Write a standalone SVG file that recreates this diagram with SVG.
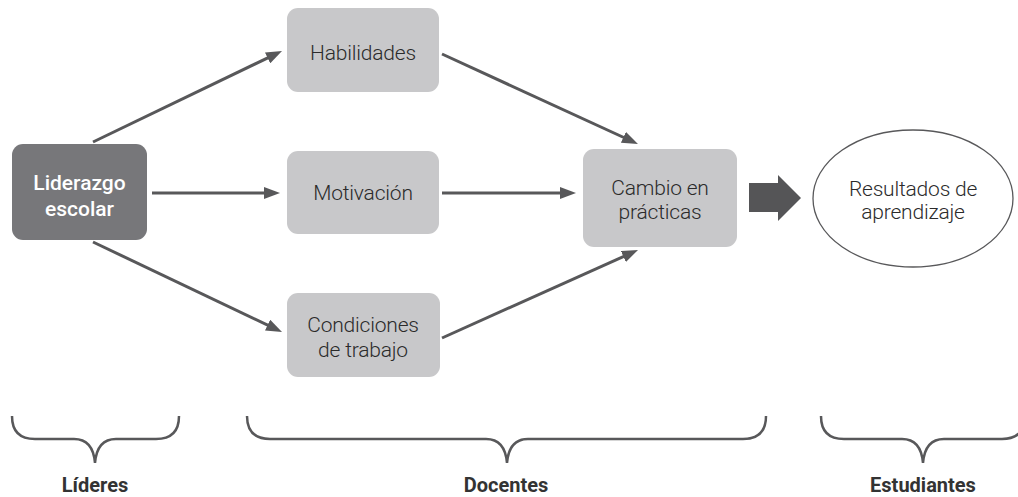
<svg xmlns="http://www.w3.org/2000/svg" width="1018" height="497" viewBox="0 0 1018 497">
<style>
.box{fill:#c8c8ca}
.dark{fill:#77777a}
.t{font-family:Roboto,"Liberation Sans",sans-serif;font-size:21px;font-weight:300;fill:#2b2b2b;text-anchor:middle;letter-spacing:-0.2px}
.tw{font-family:Roboto,"Liberation Sans",sans-serif;font-size:21px;font-weight:500;fill:#ffffff;text-anchor:middle}
.lab{font-family:Roboto,"Liberation Sans",sans-serif;font-size:20px;font-weight:700;fill:#333;text-anchor:middle}
.conn{stroke:#58585a;stroke-width:3;fill:none;marker-end:url(#ah)}
.brace{stroke:#58585a;stroke-width:2.5;fill:none}
</style>
<defs>
<marker id="ah" markerUnits="userSpaceOnUse" markerWidth="16" markerHeight="12" refX="10" refY="6" orient="auto">
<path d="M0,0 L16,6 L0,12 z" fill="#58585a"/>
</marker>
</defs>
<g id="connectors">
<line class="conn" x1="93" y1="142" x2="276.6" y2="53.6"/>
<line class="conn" x1="152" y1="193" x2="274" y2="193"/>
<line class="conn" x1="93" y1="242" x2="276.6" y2="329.4"/>
<line class="conn" x1="442" y1="54" x2="632.5" y2="141.5"/>
<line class="conn" x1="442" y1="193" x2="570" y2="193"/>
<line class="conn" x1="442" y1="338" x2="632.5" y2="252.5"/>
<path id="bigarrow" d="M749,183 H778 V175 L801,198 L778,221 V212 H749 z" fill="#555557"/>
</g>
<g id="liderazgo">
<rect class="dark" x="12" y="144" width="135" height="96" rx="11"/>
<text class="tw" x="79.5" y="190">Liderazgo</text>
<text class="tw" x="79.5" y="216">escolar</text>
</g>
<g id="habilidades">
<rect class="box" x="287" y="8" width="152" height="84" rx="11"/>
<text class="t" x="363" y="60">Habilidades</text>
</g>
<g id="motivacion">
<rect class="box" x="287" y="151" width="152" height="83" rx="11"/>
<text class="t" x="363" y="200">Motivación</text>
</g>
<g id="condiciones">
<rect class="box" x="287" y="293" width="153" height="84" rx="11"/>
<text class="t" x="363" y="332">Condiciones</text>
<text class="t" x="363" y="357">de trabajo</text>
</g>
<g id="cambio">
<rect class="box" x="583" y="149" width="154" height="98" rx="11"/>
<text class="t" x="660" y="195">Cambio en</text>
<text class="t" x="660" y="219">prácticas</text>
</g>
<g id="resultados">
<ellipse cx="913" cy="198.5" rx="100" ry="68.5" fill="#fff" stroke="#58585a" stroke-width="1.3"/>
<text class="t" x="913" y="196">Resultados de</text>
<text class="t" x="913" y="219">aprendizaje</text>
</g>
<g id="lideres">
<path class="brace" d="M12,416 Q12,439 35,439 H74 Q93,439 95,463 Q97,439 116,439 H156 Q179,439 179,416"/>
<text class="lab" x="95" y="492">Líderes</text>
</g>
<g id="docentes">
<path class="brace" d="M247,416 Q247,439 270,439 H486 Q505,439 507,463 Q509,439 528,439 H743 Q766,439 766,416"/>
<text class="lab" x="506" y="492">Docentes</text>
</g>
<g id="estudiantes">
<path class="brace" d="M821,416 Q821,439 844,439 H902 Q921,439 923,463 Q925,439 944,439 H1002 Q1025,439 1025,416"/>
<text class="lab" x="923" y="492">Estudiantes</text>
</g>
</svg>
